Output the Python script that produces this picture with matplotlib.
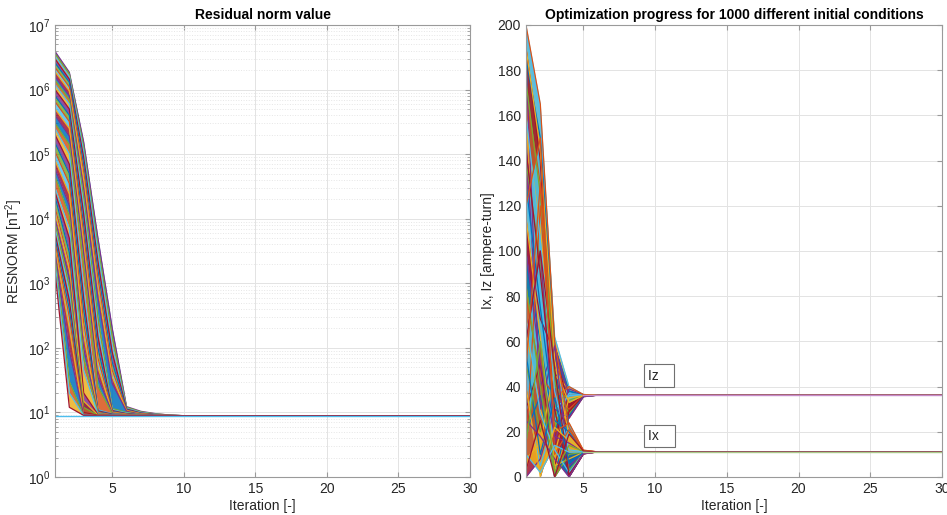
import matplotlib
matplotlib.use("Agg")
import matplotlib.pyplot as plt
from matplotlib.ticker import LogLocator, NullFormatter
import numpy as np

plt.rcParams['font.family'] = ['Liberation Sans', 'DejaVu Sans']
plt.rcParams['mathtext.fontset'] = 'custom'
plt.rcParams['mathtext.rm'] = 'Liberation Sans'

# MATLAB default line colours
colors = ['#0072BD', '#D95319', '#EDB120', '#7E2F8E', '#77AC30', '#4DBEEE', '#A2142F']

n_iter = 30

# residual norm, values at iterations 1..n, then flat at the final value
res_final = 8.9
res_curves = [
    [3.9e6, 1.85e6, 1.55e5, 5.0e3, 200, 12.3, 10.4, 9.6, 9.1],
    [3.6e6, 1.75e6, 1.3e5, 3.8e3, 150, 12.0, 10.2, 9.5, 9.1],
    [3.3e6, 1.6e6, 1.1e5, 3.0e3, 110, 11.6, 10.0, 9.4, 9.0],
    [3.0e6, 1.45e6, 9.0e4, 2.2e3, 85, 11.3, 9.8, 9.3, 9.0],
    [2.6e6, 1.3e6, 7.0e4, 1.6e3, 60, 11.0, 9.7, 9.2, 9.0],
    [2.2e6, 1.1e6, 5.5e4, 1.2e3, 45, 10.8, 9.6, 9.2, 9.0],
    [1.9e6, 9.5e5, 4.0e4, 800, 35, 10.6, 9.5, 9.1, 8.95],
    [1.6e6, 8.0e5, 3.0e4, 600, 28, 10.4, 9.4, 9.1, 8.95],
    [1.4e6, 7.0e5, 2.2e4, 300, 11.5, 10.0, 9.3, 9.0],
    [1.2e6, 6.0e5, 1.6e4, 200, 11.0, 9.8, 9.2, 9.0],
    [1.0e6, 5.0e5, 1.2e4, 150, 10.7, 9.6, 9.2, 9.0],
    [8.0e5, 4.0e5, 8.0e3, 100, 10.4, 9.5, 9.1],
    [6.5e5, 3.2e5, 6.0e3, 70, 10.2, 9.4, 9.1],
    [5.0e5, 2.5e5, 4.0e3, 50, 10.0, 9.3, 9.0],
    [4.0e5, 1.9e5, 3.0e3, 35, 9.8, 9.2, 9.0],
    [3.0e5, 1.4e5, 2.0e3, 25, 9.6, 9.1, 9.0],
    [2.5e5, 1.0e5, 900, 11.0, 9.5, 9.1, 9.0],
    [2.0e5, 7.0e4, 600, 10.6, 9.4, 9.1, 9.0],
    [1.5e5, 5.0e4, 400, 10.3, 9.3, 9.0, 8.95],
    [1.1e5, 3.5e4, 250, 10.0, 9.2, 9.0, 8.95],
    [8.0e4, 2.4e4, 160, 9.8, 9.1, 9.0, 8.95],
    [6.0e4, 1.6e4, 100, 9.6, 9.1, 8.95],
    [4.5e4, 1.1e4, 70, 9.5, 9.0, 8.95],
    [3.0e4, 7.0e3, 45, 9.4, 9.0],
    [2.6e4, 5.0e3, 20, 9.3, 9.0],
    [2.2e4, 3.0e3, 9.5, 9.0, 8.95],
    [1.5e4, 2.0e3, 9.3, 9.0],
    [1.2e4, 1.6e3, 15, 9.1],
    [1.0e4, 1.2e3, 9.2, 9.0],
    [8.5e3, 900, 12, 9.0],
    [7.0e3, 700, 9.1],
    [6.0e3, 550, 10, 9.0],
    [5.0e3, 400, 9.0],
    [4.2e3, 300, 9.5],
    [3.5e3, 200, 9.0],
    [3.0e3, 90, 9.2],
    [2.5e3, 30, 9.0],
    [2.0e3, 20, 9.0],
    [1.5e3, 12, 9.0],
]

# coil currents, values at iterations 1..n, then flat at the final value
iz_final = 36.2
iz_curves = [
    [198, 160, 62, 40, 36.5],
    [190, 140, 20, 31, 35.8],
    [185, 150, 58, 38, 36.4],
    [170, 130, 50, 37, 36.3],
    [155, 110, 45, 39, 36.4],
    [150, 40, 58, 36, 36.1],
    [140, 95, 40, 34, 36.0],
    [125, 80, 30, 36, 36.2],
    [110, 70, 55, 32, 35.8],
    [95, 60, 20, 38, 36.3],
    [80, 45, 36, 30, 35.9],
    [65, 30, 10, 35, 36.1],
    [60, 100, 15, 39, 36.4],
    [50, 20, 42, 28, 35.7],
    [35, 5, 25, 37, 36.2],
    [30, 50, 5, 29, 35.8],
    [20, 36, 0, 27, 35.6],
    [12, 120, 35, 40, 36.5],
    [8, 15, 48, 33, 36.0],
    [0, 8, 30, 26, 35.5],
]
ix_final = 11.1
ix_curves = [
    [200, 165, 60, 22, 11.8],
    [190, 145, 52, 18, 11.5],
    [185, 30, 58, 5, 10.6],
    [175, 125, 45, 3, 10.5],
    [160, 105, 38, 12, 11.2],
    [145, 90, 30, 0, 10.2],
    [130, 75, 25, 20, 11.6],
    [120, 150, 10, 21, 11.7],
    [115, 62, 5, 8, 10.9],
    [100, 50, 18, 15, 11.3],
    [85, 40, 0, 10, 11.0],
    [70, 28, 12, 2, 10.4],
    [60, 100, 48, 1, 10.3],
    [55, 10, 35, 6, 10.8],
    [48, 130, 20, 24, 11.9],
    [40, 0, 22, 16, 11.4],
    [25, 18, 8, 0, 10.3],
    [15, 60, 2, 14, 11.3],
    [10, 2, 14, 11, 11.1],
    [3, 25, 0, 19, 11.5],
]

axis_gray = '#9a9a9a'
text_gray = '#262626'


def full_curve(vals, final):
    return list(vals) + [final] * (n_iter - len(vals))


def draw_bundle(ax, it, curves, final, shift):
    # thin coloured bands between neighbouring runs stand in for the
    # 1000 overlapping lines, then the runs themselves are drawn on top
    full = [full_curve(c, final) for c in curves]
    for k in range(len(full) - 1):
        ax.fill_between(it, full[k], full[k + 1], color=colors[(k + shift) % 7],
                        alpha=0.85, linewidth=0)
    for k, y in enumerate(full):
        ax.plot(it, y, color=colors[(k + shift + 3) % 7], linewidth=0.9)


def style_axes(ax):
    for s in ax.spines.values():
        s.set_color(axis_gray)
        s.set_linewidth(0.8)
    ax.tick_params(which='both', direction='in', top=True, right=True,
                   colors=axis_gray, labelcolor=text_gray, labelsize=10)
    ax.set_xlim(1, 30)
    ax.set_xticks([5, 10, 15, 20, 25, 30])
    ax.grid(True, which='major', color='#e3e3e3', linewidth=0.7)
    ax.set_axisbelow(True)
    ax.set_xlabel('Iteration [-]', fontsize=10, color=text_gray, labelpad=2)


fig = plt.figure(figsize=(9.47, 5.15), dpi=100)
ax1 = fig.add_axes([0.0581, 0.0738, 0.4382, 0.8777])
ax2 = fig.add_axes([0.5554, 0.0738, 0.4393, 0.8777])

it = np.arange(1, n_iter + 1)

# left: residual norm
ax1.set_yscale('log')
draw_bundle(ax1, it, res_curves, res_final, 0)
ax1.plot(it, full_curve([res_final], res_final), color='#4DBEEE', linewidth=1.0)
ax1.set_ylim(1, 1e7)
style_axes(ax1)
ax1.yaxis.set_major_locator(LogLocator(base=10, numticks=10))
ax1.yaxis.set_minor_locator(LogLocator(base=10, subs=np.arange(2, 10), numticks=20))
ax1.yaxis.set_minor_formatter(NullFormatter())
ax1.grid(True, which='minor', axis='y', color='#e6e6e6', linestyle=':', linewidth=0.7)
ax1.set_ylabel('RESNORM [nT$^2$]', fontsize=10, color=text_gray, labelpad=2)
ax1.set_title('Residual norm value', fontsize=10, fontweight='bold', color='black', pad=4)

# right: Ix, Iz
draw_bundle(ax2, it, iz_curves, iz_final, 2)
draw_bundle(ax2, it, ix_curves, ix_final, 5)
ax2.plot(it[4:], full_curve([iz_final], iz_final)[4:], color='#c58ac8', linewidth=1.0)
ax2.plot(it[4:], full_curve([ix_final], ix_final)[4:], color='#a9c98a', linewidth=1.0)
ax2.set_ylim(0, 200)
ax2.set_yticks(np.arange(0, 201, 20))
style_axes(ax2)
ax2.set_ylabel('Ix, Iz [ampere-turn]', fontsize=10, color=text_gray, labelpad=2)
ax2.set_title('Optimization progress for 1000 different initial conditions',
              fontsize=10, fontweight='bold', color='black', pad=4)

box = dict(boxstyle='square,pad=0.3', facecolor='white', edgecolor='#707070', linewidth=0.8)
ax2.text(9.5, 44.9, 'Iz   ', fontsize=10, va='center', ha='left', bbox=box, color=text_gray)
ax2.text(9.5, 18.0, 'Ix   ', fontsize=10, va='center', ha='left', bbox=box, color=text_gray)

fig.savefig('out.png', dpi=100)
